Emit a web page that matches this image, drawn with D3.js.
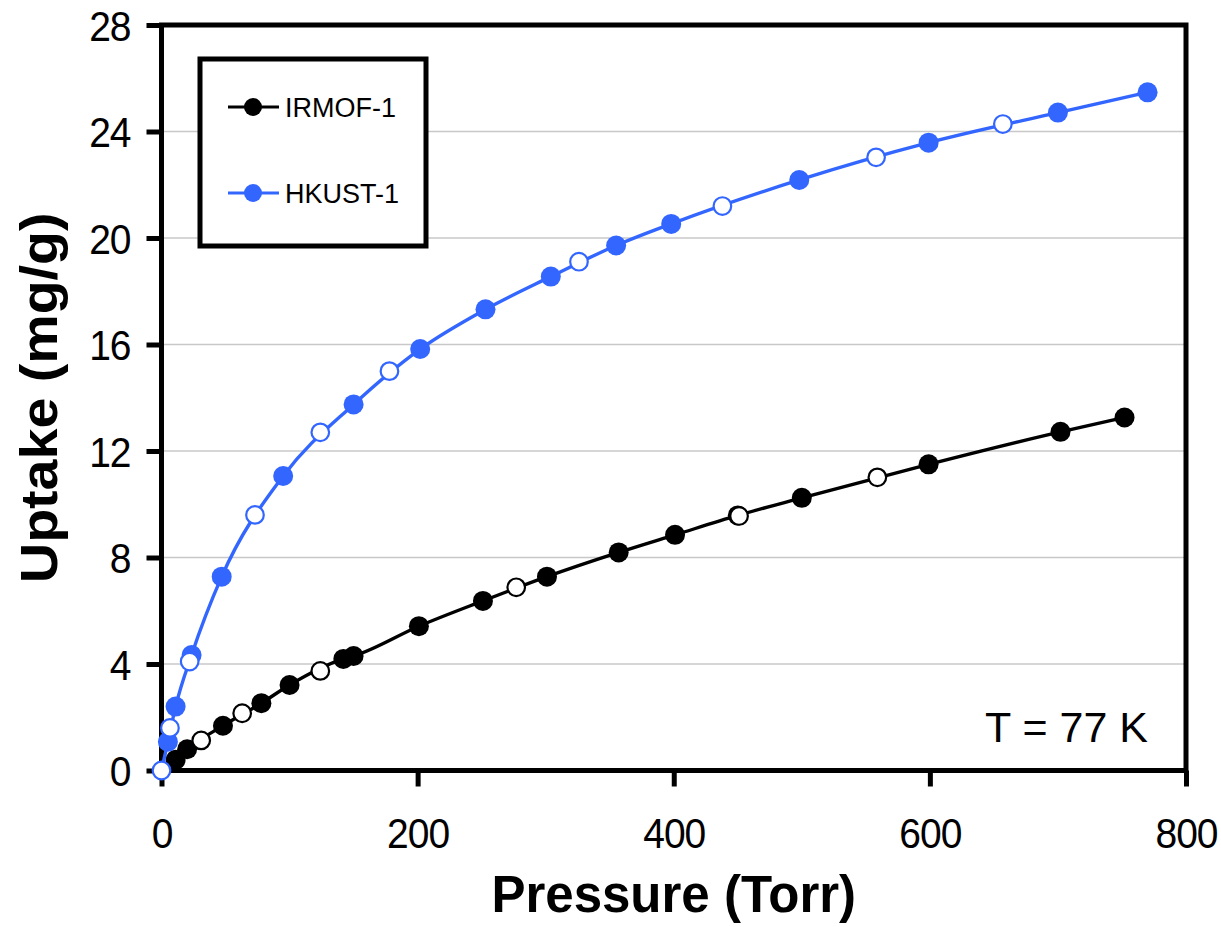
<!DOCTYPE html>
<html>
<head>
<meta charset="utf-8">
<script src="https://cdn.jsdelivr.net/npm/d3@7"></script>
<style>
  body { margin: 0; background: #fff; }
  text { font-family: "Liberation Sans", Arial, Helvetica, sans-serif; }
</style>
</head>
<body>
<svg id="chart" width="1221" height="927"></svg>
<script>
// IRMOF-1, adsorption (filled) and desorption (open)
var irmofAdsP = [11, 20, 48, 78, 100, 142, 150, 201, 251, 301, 357, 401, 450, 500, 599, 702, 752];
var irmofAdsU = [0.40, 0.80, 1.68, 2.53, 3.21, 4.19, 4.30, 5.42, 6.37, 7.28, 8.19, 8.85, 9.58, 10.24, 11.50, 12.72, 13.26];
var irmofDesP = [31, 63, 124, 277, 451, 559];
var irmofDesU = [1.13, 2.15, 3.74, 6.88, 9.56, 11.01];

// HKUST-1
var hkustAdsP = [5, 11, 23.5, 47, 95, 150, 202, 253, 304, 355, 398, 498, 599, 700, 770];
var hkustAdsU = [1.08, 2.40, 4.34, 7.28, 11.06, 13.75, 15.83, 17.32, 18.55, 19.72, 20.53, 22.18, 23.58, 24.71, 25.47];
var hkustDesP = [0, 6.6, 22, 73, 124, 178, 326, 438, 558, 657];
var hkustDesU = [0, 1.60, 4.09, 9.60, 12.70, 15.00, 19.11, 21.20, 23.03, 24.28];

var seriesNames = ["IRMOF-1", "HKUST-1"];
var seriesColors = ["#000000", "#3366ff"];

var xTicks = [0, 200, 400, 600, 800];
var yTicks = [0, 4, 8, 12, 16, 20, 24, 28];

var svg = d3.select('#chart');

var plotLeft = 161.5, plotRight = 1186, plotTop = 25, plotBottom = 770.5;

var x = d3.scaleLinear().domain([0, 800]).range([plotLeft, plotRight]);
var y = d3.scaleLinear().domain([0, 28]).range([plotBottom, plotTop]);

function zip(ps, us) {
    return ps.map(function (p, i) { return { p: p, u: us[i] }; });
}

// gridlines
svg.append('g').selectAll('line')
    .data(yTicks.filter(function (d) { return d > 0 && d < 28; }))
    .enter().append('line')
    .attr('x1', plotLeft).attr('x2', plotRight)
    .attr('y1', function (d) { return y(d); })
    .attr('y2', function (d) { return y(d); })
    .style('stroke', '#c8c8c8')
    .style('stroke-width', 1.6);

// frame
svg.append('rect')
    .attr('x', plotLeft).attr('y', plotTop)
    .attr('width', plotRight - plotLeft).attr('height', plotBottom - plotTop)
    .style('fill', 'none')
    .style('stroke', '#000')
    .style('stroke-width', 5);

// axes
var xAxis = svg.append('g')
    .attr('transform', 'translate(0,' + plotBottom + ')')
    .call(d3.axisBottom(x).tickValues(xTicks).tickSize(16).tickSizeOuter(0));

var yAxis = svg.append('g')
    .attr('transform', 'translate(' + plotLeft + ',0)')
    .call(d3.axisLeft(y).tickValues(yTicks).tickSize(15).tickSizeOuter(0));

[xAxis, yAxis].forEach(function (a) {
    a.select('.domain').remove();
    a.selectAll('line').style('stroke', '#000').style('stroke-width', 5);
    a.selectAll('text')
        .style('font-size', '39px')
        .style('fill', '#000')
        .style('letter-spacing', '-1px');
});
// labels in the reference are a bit taller than wide
xAxis.selectAll('text')
    .attr('dy', null).attr('y', 0)
    .attr('transform', 'translate(0,77) scale(1,1.1)');
yAxis.selectAll('text')
    .attr('dy', null).attr('x', -31).attr('y', 0)
    .attr('transform', 'translate(0,15) scale(1,1.1)');

// series
var line = d3.line()
    .x(function (d) { return x(d.p); })
    .y(function (d) { return y(d.u); })
    .curve(d3.curveMonotoneX);

var series = [
    { ads: zip(irmofAdsP, irmofAdsU), des: zip(irmofDesP, irmofDesU), color: seriesColors[0] },
    { ads: zip(hkustAdsP, hkustAdsU), des: zip(hkustDesP, hkustDesU), color: seriesColors[1] }
];

series.forEach(function (s) {
    var g = svg.append('g');
    var lineData = s.des[0].p === 0 ? [s.des[0]].concat(s.ads) : s.ads;

    g.append('path')
        .datum(lineData)
        .attr('d', line)
        .style('fill', 'none')
        .style('stroke', s.color)
        .style('stroke-width', 3.4);

    g.selectAll('circle.ads')
        .data(s.ads)
        .enter().append('circle')
        .attr('class', 'ads')
        .attr('cx', function (d) { return x(d.p); })
        .attr('cy', function (d) { return y(d.u); })
        .attr('r', 10)
        .style('fill', s.color);

    g.selectAll('circle.des')
        .data(s.des)
        .enter().append('circle')
        .attr('class', 'des')
        .attr('cx', function (d) { return x(d.p); })
        .attr('cy', function (d) { return y(d.u); })
        .attr('r', 8.8)
        .style('fill', '#fff')
        .style('stroke', s.color)
        .style('stroke-width', 2.2);
});

// legend
var legend = svg.append('g').attr('id', 'legend');

legend.append('rect')
    .attr('x', 200).attr('y', 59)
    .attr('width', 226).attr('height', 187)
    .style('fill', '#fff')
    .style('stroke', '#000')
    .style('stroke-width', 5);

var legendY = [107, 193];
seriesNames.forEach(function (name, i) {
    legend.append('line')
        .attr('x1', 228).attr('x2', 279)
        .attr('y1', legendY[i]).attr('y2', legendY[i])
        .style('stroke', seriesColors[i])
        .style('stroke-width', 3);
    legend.append('circle')
        .attr('cx', 253).attr('cy', legendY[i])
        .attr('r', 9)
        .style('fill', seriesColors[i]);
    legend.append('text')
        .attr('x', 285).attr('y', legendY[i] + 10)
        .style('font-size', '27px')
        .text(name);
});

// temperature label
svg.append('text')
    .attr('x', 1148).attr('y', 742)
    .attr('text-anchor', 'end')
    .style('font-size', '43px')
    .text('T = 77 K');

// axis titles
svg.append('text')
    .attr('x', (plotLeft + plotRight) / 2).attr('y', 912)
    .attr('text-anchor', 'middle')
    .style('font-size', '51px')
    .style('font-weight', 'bold')
    .text('Pressure (Torr)');

svg.append('text')
    .attr('transform', 'translate(57,' + ((plotTop + plotBottom) / 2) + ') rotate(-90) scale(1.09,1)')
    .attr('text-anchor', 'middle')
    .style('font-size', '51px')
    .style('font-weight', 'bold')
    .text('Uptake (mg/g)');
</script>
</body>
</html>
